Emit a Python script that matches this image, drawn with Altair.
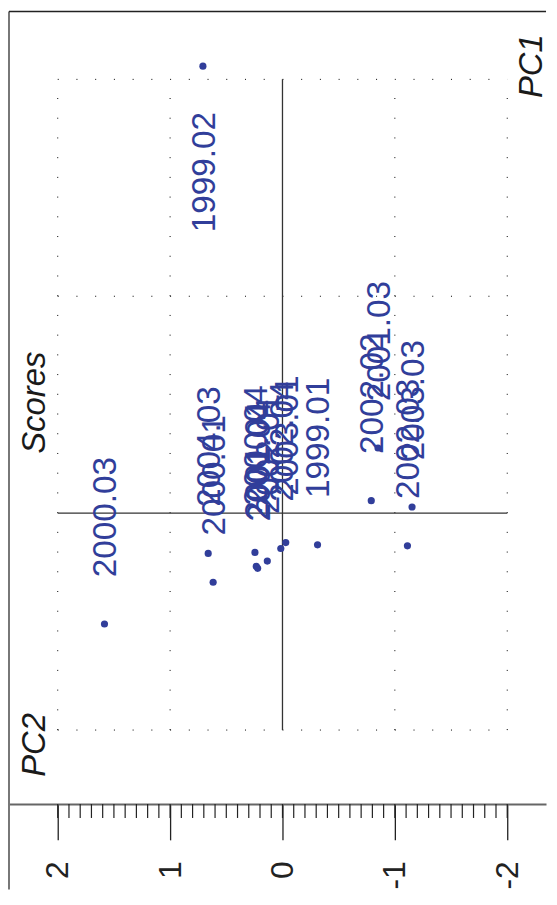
import altair as alt
import pandas as pd

# ---- data (scores) ----
labels = ["1999.02", "2000.03", "2004.03", "2000.01", "2000.04", "2001.01",
          "2001.04", "2002.01", "2002.04", "2003.01", "1999.01", "2002.02",
          "2003.03", "2002.03", "2001.03"]
pc2 = [0.708, 1.584, 0.661, 0.617, 0.245, 0.233, 0.221, 0.135, 0.015,
       -0.029, -0.312, -0.790, -1.153, -1.112, -0.85]
pc1 = [4.122, -1.022, -0.371, -0.637, -0.362, -0.491, -0.509, -0.442, -0.326,
       -0.271, -0.292, 0.115, 0.057, -0.301, 0.601]
side = ["flip"] + ["n"] * 14

major_ticks = [-2, -1, 0, 1, 2]
minor_ticks = [round(-2 + 0.1 * i, 1) for i in range(41)]
vgrid_pc2 = [2, 1, -1, -2]
hgrid_pc1 = [4, 2, -2]

df = pd.DataFrame({"label": labels, "pc2": pc2, "pc1": pc1, "side": side})

W, H = 541, 798
BLUE = "#313E9A"
FONT = "Liberation Sans"

xs = alt.Scale(domain=[-2.3451, 2.4425], reverse=True, nice=False, zero=False)
ys = alt.Scale(domain=[-2.6822, 4.6355], nice=False, zero=False)

axis = alt.Axis(values=major_ticks, tickSize=36, tickColor="#222", tickWidth=1.3,
                domainColor="#666", domainWidth=2, grid=False, title=None,
                labelAngle=270, labelAlign="right", labelBaseline="middle",
                labelFontSize=32, labelFont=FONT, labelColor="#222", labelPadding=21,
                labelExpr="datum.value < 0 ? '-' + abs(datum.value) : '' + datum.value")


def X(field):
    return alt.X(field, scale=xs, axis=axis)


def Y(field):
    return alt.Y(field, scale=ys, axis=None)


# dotted grid lines
vg = pd.DataFrame({"pc2": vgrid_pc2, "lo": [-2] * 4, "hi": [4] * 4})
vgrid = alt.Chart(vg).mark_rule(color="black", strokeWidth=1, strokeDash=[1, 18.83]).encode(
    x=X("pc2:Q"), y=Y("lo:Q"), y2="hi:Q")
hg = pd.DataFrame({"pc1": hgrid_pc1, "lo": [2] * 3, "hi": [-2] * 3})
hgrid = alt.Chart(hg).mark_rule(color="black", strokeWidth=1, strokeDash=[1, 17.83]).encode(
    y=Y("pc1:Q"), x=X("lo:Q"), x2="hi:Q")

# crosshair
cv = alt.Chart(pd.DataFrame({"pc2": [0], "lo": [-2], "hi": [4]})).mark_rule(
    color="#333", strokeWidth=1.3).encode(x=X("pc2:Q"), y=Y("lo:Q"), y2="hi:Q")
ch = alt.Chart(pd.DataFrame({"pc1": [0], "lo": [2], "hi": [-2]})).mark_rule(
    color="#333", strokeWidth=1.3).encode(y=Y("pc1:Q"), x=X("lo:Q"), x2="hi:Q")

# minor ticks under the axis
mt = alt.Chart(pd.DataFrame({"t": minor_ticks})).mark_rule(color="#222", strokeWidth=1.2).encode(
    x=X("t:Q"), y=alt.value(H), y2=alt.value(H + 14))

pts = alt.Chart(df).mark_circle(size=52, color=BLUE, opacity=1).encode(
    x=X("pc2:Q"), y=Y("pc1:Q"))

txt_n = alt.Chart(df).transform_filter("datum.side == 'n'").mark_text(
    angle=270, align="left", baseline="middle", dx=47, dy=2, fontSize=33.5, font=FONT,
    color=BLUE).encode(x=X("pc2:Q"), y=Y("pc1:Q"), text="label:N")
txt_f = alt.Chart(df).transform_filter("datum.side == 'flip'").mark_text(
    angle=270, align="right", baseline="middle", dx=-46, dy=2, fontSize=33.5, font=FONT,
    color=BLUE).encode(x=X("pc2:Q"), y=Y("pc1:Q"), text="label:N")


# titles
def title(t, x, y):
    return alt.Chart(pd.DataFrame({"t": [t]})).mark_text(
        angle=270, align="center", baseline="alphabetic", fontSize=33,
        fontStyle="italic", font=FONT, color="#1a1a1a").encode(
        x=alt.value(x), y=alt.value(y), text="t:N")


t_scores = title("Scores", 37, 394.5)
t_pc1 = title("PC1", 537, 56)
t_pc2 = title("PC2", 37, 738.5)

# outer frame lines (left and top)
frame_l = alt.Chart(pd.DataFrame({"a": [0]})).mark_rule(color="#777", strokeWidth=2).encode(
    x=alt.value(1), y=alt.value(1), y2=alt.value(884))
frame_t = alt.Chart(pd.DataFrame({"a": [0]})).mark_rule(color="#222", strokeWidth=1.6).encode(
    x=alt.value(1), x2=alt.value(W), y=alt.value(1))

chart = alt.layer(
    vgrid, hgrid, cv, ch, mt, pts, txt_n, txt_f, t_scores, t_pc1, t_pc2, frame_l, frame_t
).properties(width=W, height=H, padding=0).configure_view(stroke=None)

chart.save("out.html", embed_options={"renderer": "svg", "actions": False})
